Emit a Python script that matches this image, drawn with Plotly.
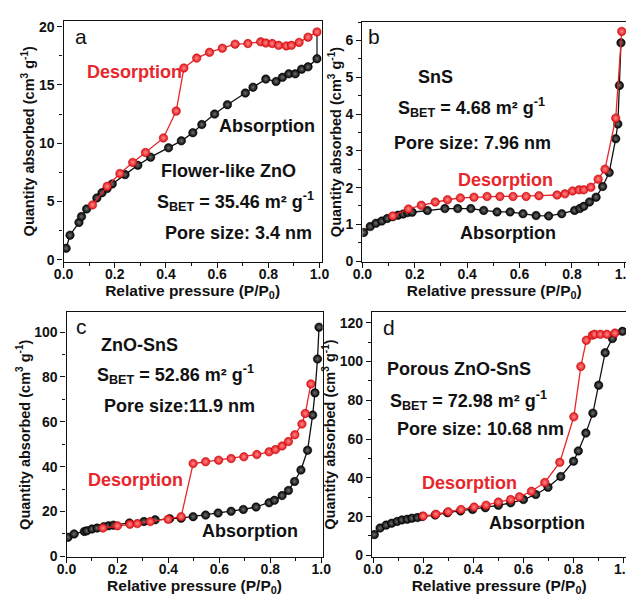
import plotly.graph_objects as go

# ---------------- data ----------------
# Panel a: Flower-like ZnO
a_ads_x = [0.01, 0.025, 0.06, 0.07, 0.09, 0.13, 0.15, 0.17, 0.19, 0.24, 0.29, 0.34, 0.41, 0.46, 0.505, 0.54, 0.59, 0.64, 0.71, 0.74, 0.79, 0.83, 0.855, 0.88, 0.905, 0.93, 0.955, 0.99]
a_ads_y = [0.98, 2.1, 3.2, 3.7, 4.35, 5.3, 5.75, 6.1, 6.5, 7.3, 8.1, 8.8, 9.6, 10.2, 10.9, 11.6, 12.5, 13.3, 14.3, 14.8, 15.5, 15.3, 15.65, 15.95, 15.95, 16.35, 16.55, 17.25]
a_des_x = [0.113, 0.17, 0.22, 0.27, 0.32, 0.39, 0.44, 0.47, 0.52, 0.57, 0.62, 0.67, 0.72, 0.77, 0.79, 0.815, 0.84, 0.87, 0.89, 0.92, 0.955, 0.99]
a_des_y = [4.7, 6.3, 7.4, 8.35, 9.2, 10.45, 12.75, 16.45, 17.3, 17.8, 18.15, 18.5, 18.55, 18.7, 18.6, 18.55, 18.4, 18.35, 18.4, 18.65, 19.1, 19.55]

# Panel b: SnS
b_ads_x = [0.005, 0.03, 0.052, 0.074, 0.095, 0.116, 0.136, 0.156, 0.173, 0.19, 0.248, 0.315, 0.364, 0.414, 0.463, 0.514, 0.564, 0.613, 0.663, 0.711, 0.761, 0.81, 0.83, 0.845, 0.867, 0.892, 0.917, 0.942, 0.967, 0.975, 0.981, 0.987]
b_ads_y = [0.78, 0.94, 1.03, 1.09, 1.16, 1.21, 1.25, 1.28, 1.32, 1.33, 1.38, 1.43, 1.43, 1.43, 1.38, 1.34, 1.34, 1.29, 1.24, 1.23, 1.29, 1.38, 1.43, 1.49, 1.61, 1.74, 2.03, 2.41, 3.33, 3.73, 4.78, 5.94]
b_des_x = [0.116, 0.176, 0.225, 0.278, 0.325, 0.374, 0.426, 0.476, 0.525, 0.575, 0.625, 0.674, 0.743, 0.773, 0.802, 0.827, 0.845, 0.872, 0.9, 0.926, 0.967, 0.99]
b_des_y = [1.23, 1.42, 1.52, 1.61, 1.67, 1.72, 1.74, 1.76, 1.76, 1.76, 1.76, 1.78, 1.8, 1.83, 1.91, 1.94, 1.94, 2.01, 2.23, 2.5, 3.89, 6.25]

# Panel c: ZnO-SnS
c_ads_x = [0.006, 0.03, 0.07, 0.08, 0.1, 0.12, 0.146, 0.165, 0.184, 0.247, 0.304, 0.348, 0.405, 0.45, 0.497, 0.546, 0.595, 0.646, 0.694, 0.744, 0.795, 0.816, 0.846, 0.871, 0.895, 0.92, 0.946, 0.966, 0.975, 0.985, 0.991]
c_ads_y = [8.5, 10.0, 11.1, 11.4, 12.2, 12.6, 13.2, 13.6, 13.9, 14.9, 15.5, 16.3, 16.8, 17.0, 17.7, 18.4, 19.3, 20.1, 20.9, 22.0, 23.9, 25.0, 27.1, 29.4, 33.4, 38.5, 47.3, 63.0, 72.9, 88.0, 102.2]
c_des_x = [0.143, 0.2, 0.249, 0.278, 0.329, 0.399, 0.45, 0.497, 0.546, 0.597, 0.646, 0.696, 0.747, 0.795, 0.82, 0.846, 0.871, 0.896, 0.924, 0.937, 0.959]
c_des_y = [12.6, 13.6, 14.3, 14.6, 15.5, 16.5, 17.7, 41.4, 42.2, 42.9, 43.6, 44.4, 45.4, 46.6, 47.6, 49.2, 51.2, 54.2, 59.0, 63.7, 76.9]

# Panel d: Porous ZnO-SnS
d_ads_x = [0.005, 0.028, 0.052, 0.074, 0.096, 0.115, 0.136, 0.155, 0.177, 0.196, 0.248, 0.297, 0.349, 0.397, 0.448, 0.5, 0.549, 0.6, 0.649, 0.698, 0.749, 0.8, 0.819, 0.849, 0.877, 0.9, 0.926, 0.955, 0.995]
d_ads_y = [10.7, 14.1, 15.6, 16.6, 17.5, 18.3, 18.6, 19.2, 19.5, 20.0, 20.8, 22.0, 22.9, 23.7, 24.6, 25.8, 27.1, 28.8, 31.4, 35.1, 40.7, 48.6, 53.9, 63.1, 73.4, 87.8, 104.6, 111.9, 115.6]
d_des_x = [0.2, 0.251, 0.3, 0.351, 0.403, 0.451, 0.5, 0.549, 0.584, 0.632, 0.685, 0.745, 0.801, 0.829, 0.851, 0.875, 0.884, 0.907, 0.933, 0.965]
d_des_y = [20.3, 21.2, 22.5, 23.7, 24.9, 25.9, 27.5, 28.8, 30.2, 33.1, 37.6, 48.0, 71.5, 97.5, 111.0, 113.6, 114.1, 114.1, 114.1, 114.7]

panel_letters = ["a", "b", "c", "d"]
sample_names = ["Flower-like ZnO", "SnS", "ZnO-SnS", "Porous ZnO-SnS"]
sbet_values = ["35.46", "4.68", "52.86", "72.98"]
pore_texts = ["Pore size: 3.4 nm", "Pore size: 7.96 nm", "Pore size:11.9 nm", "Pore size: 10.68 nm"]
y_ticks = [[0, 5, 10, 15, 20], [0, 1, 2, 3, 4, 5, 6], [0, 20, 40, 60, 80, 100], [0, 20, 40, 60, 80, 100, 120]]
x_ticks = [0.0, 0.2, 0.4, 0.6, 0.8, 1.0]

# ---------------- layout helpers ----------------
W, H = 634, 597
# pixel boxes (left, right, top, bottom)
boxes = [(47, 313, 11, 255.5), (355, 627, 12, 256), (50, 314, 307, 555.5), (365, 627, 307, 555)]
xranges = [[0, 1.008], [0, 1.007], [0, 1.005], [-0.004, 1.01]]
yranges = [[-0.17, 20.5], [-0.027, 6.51], [-0.35, 108.8], [-0.66, 125.4]]
minor_y = [2.5, 0.5, 10, 10]

RED = "#e8262b"
FONT = "Liberation Sans, Arial, sans-serif"

fig = go.Figure()
series = [
    (a_ads_x, a_ads_y, a_des_x, a_des_y),
    (b_ads_x, b_ads_y, b_des_x, b_des_y),
    (c_ads_x, c_ads_y, c_des_x, c_des_y),
    (d_ads_x, d_ads_y, d_des_x, d_des_y),
]

for i, (ax_, ay_, dx_, dy_) in enumerate(series):
    xa = "x" if i == 0 else f"x{i+1}"
    ya = "y" if i == 0 else f"y{i+1}"
    if i == 0:
        # vertical closure between the two branches at high pressure
        fig.add_trace(go.Scatter(x=[ax_[-1], dx_[-1]], y=[ay_[-1], dy_[-1]], mode="lines",
                                 line=dict(color="#222", width=1.3), xaxis=xa, yaxis=ya,
                                 showlegend=False, hoverinfo="skip"))
    fig.add_trace(go.Scatter(x=ax_, y=ay_, mode="lines+markers", xaxis=xa, yaxis=ya,
                             line=dict(color="#111", width=1.3),
                             marker=dict(size=8.5, color="#000000",
                                         gradient=dict(type="radial", color="#707070"),
                                         line=dict(width=0.5, color="#000")),
                             showlegend=False))
    fig.add_trace(go.Scatter(x=dx_, y=dy_, mode="lines+markers", xaxis=xa, yaxis=ya,
                             line=dict(color=RED, width=1.3),
                             marker=dict(size=8.5, color="#e3141a",
                                         gradient=dict(type="radial", color="#ff8a8a"),
                                         line=dict(width=0.5, color="#c00000")),
                             showlegend=False))

layout = dict(width=W, height=H, margin=dict(l=0, r=0, t=0, b=0),
              paper_bgcolor="white", plot_bgcolor="white",
              font=dict(family=FONT, color="#111", size=14, weight="bold"))

for i in range(4):
    l, r, t, b = boxes[i]
    xk = "xaxis" if i == 0 else f"xaxis{i+1}"
    yk = "yaxis" if i == 0 else f"yaxis{i+1}"
    ya = "y" if i == 0 else f"y{i+1}"
    xa = "x" if i == 0 else f"x{i+1}"
    layout[xk] = dict(domain=[l / W, r / W], range=xranges[i], anchor=ya,
                      tickvals=x_ticks, ticktext=[f"{v:.1f}" for v in x_ticks],
                      ticks="outside", ticklen=5, tickwidth=1.3, tickcolor="#111",
                      ticklabelstandoff=-6,
                      minor=dict(dtick=0.1, tick0=0, ticks="outside", ticklen=3, tickwidth=1.2, tickcolor="#111"),
                      showline=True, linecolor="#111", linewidth=1.4, mirror=True,
                      showgrid=False, zeroline=False,
                      tickfont=dict(size=14, family=FONT, weight="bold"),
                      title=dict(text="Relative pressure (P/P<sub>0</sub>)", standoff=0,
                                 font=dict(size=15.5, family=FONT, weight="bold")))
    layout[yk] = dict(domain=[1 - b / H, 1 - t / H], range=yranges[i], anchor=xa,
                      tickvals=y_ticks[i], ticks="outside", ticklen=5, tickwidth=1.3, tickcolor="#111",
                      minor=dict(dtick=minor_y[i], tick0=0, ticks="outside", ticklen=3, tickwidth=1.2, tickcolor="#111"),
                      showline=True, linecolor="#111", linewidth=1.4, mirror=True,
                      showgrid=False, zeroline=False,
                      tickfont=dict(size=14, family=FONT, weight="bold"),
                      title=dict(text="Quantity absorbed (cm<sup>3</sup> g<sup>-1</sup>)", standoff=0,
                                 font=dict(size=14.5, family=FONT, weight="bold")))

# annotation centre positions in pixels
letter_pos = [(65, 27), (367, 27), (65, 321), (382, 322)]
name_pos = [(217, 163), (430, 68), (125, 340), (455, 365)]
sbet_pos = [(224, 194), (467, 99), (162, 370), (464, 396)]
pore_pos = [(227, 226), (469, 135), (166, 402), (477, 425)]
des_pos = [(120, 63), (503, 173), (121, 477), (465, 480)]
abs_pos = [(257, 118), (505, 226), (239, 529), (535, 521)]

anns = []
def add(text, pos, size=18, color="#111", weight="bold"):
    anns.append(dict(text=text, x=pos[0] / W, y=1 - pos[1] / H, xref="paper", yref="paper",
                     xanchor="center", yanchor="middle", showarrow=False,
                     font=dict(size=size, color=color, family=FONT, weight=weight)))

for i in range(4):
    add(panel_letters[i], letter_pos[i], size=21, weight="normal")
    add(sample_names[i], name_pos[i])
    add(f"S<sub>BET</sub> = {sbet_values[i]} m² g<sup>-1</sup>", sbet_pos[i])
    add(pore_texts[i], pore_pos[i])
    add("Desorption", des_pos[i], color=RED)
    add("Absorption", abs_pos[i])

layout["annotations"] = anns
fig.update_layout(**layout)
fig.write_html("out.html")
